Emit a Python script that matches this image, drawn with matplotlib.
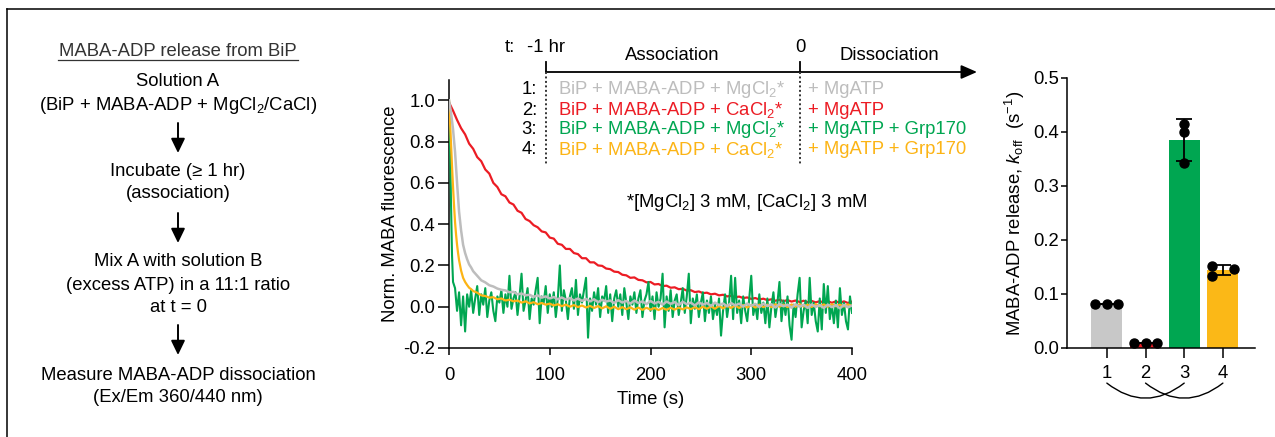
import numpy as np
import matplotlib
matplotlib.use("Agg")
import matplotlib.pyplot as plt
from matplotlib.patches import FancyArrowPatch
from matplotlib.lines import Line2D
import matplotlib.transforms as mtransforms

plt.rcParams['font.family'] = ['Liberation Sans', 'DejaVu Sans']
plt.rcParams['mathtext.fontset'] = 'custom'
plt.rcParams['mathtext.rm'] = 'Liberation Sans'
plt.rcParams['mathtext.it'] = 'Liberation Sans:italic'
plt.rcParams['mathtext.bf'] = 'Liberation Sans:bold'
plt.rcParams['font.size'] = 13.3

# ---------------- data ----------------
C_GRAY, C_RED, C_GREEN, C_YEL = '#bdbdbd', '#ec1c24', '#00a651', '#fcb415'
BAR_COLORS = ['#c8c8c8', '#ec1c24', '#00a651', '#fbb817']

# red trace (CaCl2, MgATP), every 4 s from 0 to 400 s
red_v = [0.99, 0.95, 0.905, 0.865, 0.835, 0.79, 0.765, 0.725, 0.705, 0.665,
         0.645, 0.60, 0.58, 0.545, 0.535, 0.505, 0.495, 0.465, 0.455, 0.425,
         0.415, 0.395, 0.385, 0.365, 0.36, 0.335, 0.33, 0.305, 0.30, 0.28,
         0.28, 0.26, 0.255, 0.235, 0.235, 0.215, 0.215, 0.20, 0.198, 0.185,
         0.182, 0.17, 0.168, 0.155, 0.152, 0.14, 0.142, 0.13, 0.128, 0.118,
         0.12, 0.108, 0.11, 0.10, 0.102, 0.092, 0.094, 0.085, 0.087, 0.078,
         0.08, 0.071, 0.074, 0.066, 0.068, 0.06, 0.063, 0.055, 0.058, 0.05,
         0.053, 0.046, 0.049, 0.042, 0.045, 0.038, 0.042, 0.035, 0.039, 0.032,
         0.036, 0.029, 0.034, 0.027, 0.032, 0.025, 0.030, 0.023, 0.029, 0.022,
         0.028, 0.021, 0.027, 0.020, 0.027, 0.019, 0.026, 0.019, 0.026, 0.018,
         0.025]

# gray trace (MgCl2, MgATP)
gray_t_early = [0, 2, 4, 6, 8, 10, 12, 14, 16, 18, 20, 22]
gray_v_early = [1.00, 0.94, 0.86, 0.75, 0.60, 0.46, 0.37, 0.30, 0.26, 0.23, 0.205, 0.19]
gray_v_late = [0.172, 0.150, 0.128, 0.118, 0.104, 0.098, 0.088, 0.082, 0.079, 0.070,
               0.072, 0.060, 0.064, 0.055, 0.058, 0.048, 0.055, 0.044, 0.050, 0.040,
               0.047, 0.036, 0.045, 0.034, 0.042, 0.030, 0.040, 0.028, 0.038, 0.026,
               0.036, 0.022, 0.034, 0.025, 0.030, 0.018, 0.032, 0.020, 0.028, 0.015,
               0.030, 0.018, 0.026, 0.012, 0.028, 0.016, 0.024, 0.010, 0.025, 0.014,
               0.022, 0.008, 0.024, 0.012, 0.020, 0.006, 0.022, 0.010, 0.018, 0.004,
               0.020, 0.008, 0.016, 0.002, 0.018, 0.006, 0.015, 0.000, 0.016, 0.004,
               0.014, -0.002, 0.015, 0.003, 0.012, -0.004, 0.013, 0.002, 0.010, -0.005,
               0.012, 0.000, 0.010, -0.006, 0.011, -0.001, 0.008, -0.006, 0.010, -0.002,
               0.008, -0.008, 0.009, -0.003, 0.006]

# yellow trace (CaCl2, MgATP + Grp170)
yel_t_early = [0, 1, 2, 3, 4, 5, 6, 7, 8, 9, 10, 12, 14, 16, 18, 20, 22]
yel_v_early = [1.00, 0.90, 0.79, 0.68, 0.58, 0.49, 0.41, 0.35, 0.30, 0.26, 0.225,
               0.175, 0.14, 0.12, 0.105, 0.092, 0.085]
yel_v_late = [0.076, 0.068, 0.055, 0.052, 0.044, 0.046, 0.036, 0.040, 0.030, 0.034,
              0.026, 0.030, 0.020, 0.026, 0.016, 0.022, 0.012, 0.018, 0.010, 0.015,
              0.006, 0.012, 0.003, 0.010, 0.000, 0.008, -0.002, 0.006, -0.004, 0.004,
              -0.006, 0.003, -0.008, 0.002, -0.010, 0.000, -0.012, -0.002, -0.012, -0.003,
              -0.014, -0.004, -0.015, -0.005, -0.014, -0.006, -0.016, -0.006, -0.015, -0.005,
              -0.014, -0.004, -0.013, -0.003, -0.012, -0.002, -0.012, 0.000, -0.010, 0.002,
              -0.010, 0.004, -0.008, 0.006, -0.006, 0.006, -0.006, 0.008, -0.004, 0.008,
              -0.004, 0.010, -0.002, 0.010, -0.002, 0.012, 0.000, 0.010, -0.002, 0.011,
              0.000, 0.012, 0.001, 0.010, -0.001, 0.012, 0.002, 0.011, 0.000, 0.012,
              0.002, 0.010, 0.001, 0.011, 0.004]

# green trace (MgCl2, MgATP + Grp170)
green_t_early = [0, 1, 2, 3, 4]
green_v_early = [1.0, 0.80, 0.50, 0.25, 0.12]
green_v_late = [0.09, -0.02, 0.07, -0.09, 0.05, -0.12, 0.06, 0.00, 0.08, -0.03,
                0.04, 0.10, -0.04, 0.06, 0.01, 0.09, -0.05, 0.03, 0.07, -0.02,
                -0.07, 0.05, 0.02, 0.08, -0.03, 0.06, 0.00, 0.15, -0.01, 0.04,
                0.07, -0.04, 0.05, 0.16, -0.02, 0.03, 0.09, -0.06, 0.04, 0.01,
                0.08, 0.14, -0.08, 0.05, 0.02, 0.10, -0.03, 0.06, 0.00, 0.07,
                -0.05, 0.04, 0.20, -0.02, 0.08, 0.03, -0.06, 0.05, 0.09, -0.01,
                0.13, -0.04, 0.06, 0.02, 0.08, 0.14, -0.15, 0.04, -0.02, 0.07,
                0.01, 0.09, -0.05, 0.05, 0.03, 0.10, -0.03, 0.06, -0.07, 0.04,
                0.08, 0.00, 0.06, -0.04, 0.09, 0.02, -0.06, 0.05, 0.01, 0.07,
                -0.03, 0.04, 0.08, -0.05, 0.03, 0.06, 0.12, -0.02, 0.05, -0.06,
                0.07, 0.00, 0.04, 0.16, -0.10, 0.05, -0.02, 0.08, -0.05, 0.03,
                0.06, -0.04, 0.02, 0.09, -0.03, 0.05, 0.16, -0.08, 0.04, -0.01,
                0.06, -0.05, 0.02, 0.07, -0.07, 0.03, -0.03, 0.05, -0.06, 0.01,
                -0.04, 0.04, -0.14, -0.02, 0.06, -0.05, 0.02, 0.15, -0.06, 0.14,
                -0.03, 0.03, -0.08, 0.05, -0.02, -0.07, 0.04, 0.15, -0.04, 0.01,
                -0.06, 0.06, -0.03, 0.02, -0.08, 0.04, -0.10, 0.00, 0.07, -0.05,
                0.02, 0.12, -0.07, 0.03, -0.04, 0.05, -0.09, -0.16, 0.01, -0.05,
                0.06, 0.14, -0.10, -0.02, 0.03, -0.08, 0.14, -0.04, 0.02, -0.07,
                -0.12, 0.04, -0.11, 0.11, -0.03, 0.10, -0.06, 0.01, -0.08, 0.03,
                -0.10, 0.09, -0.04, 0.02, -0.07, -0.11, 0.05, -0.03]

time_ticks = [0, 100, 200, 300, 400]
fluo_ticks = [-0.2, 0.0, 0.2, 0.4, 0.6, 0.8, 1.0]

# bar chart
bar_labels = ['1', '2', '3', '4']
bar_pos = [1, 2, 3, 4]
koff_points = [[0.082, 0.082, 0.082],
               [0.010, 0.010, 0.010],
               [0.415, 0.400, 0.342],
               [0.152, 0.134, 0.146]]
dot_offsets = [[-0.3, 0.0, 0.3],
               [-0.3, 0.0, 0.3],
               [0.0, 0.0, 0.0],
               [-0.28, -0.28, 0.3]]
koff_ticks = [0.0, 0.1, 0.2, 0.3, 0.4, 0.5]
comparisons = [(1, 3), (2, 4)]

# ---------------- figure ----------------
W, H = 1275, 437
fig = plt.figure(figsize=(W / 100, H / 100), dpi=100)

def fx(px):
    return px / W

def fy(py):
    return 1 - py / H

# frame lines
fig.add_artist(Line2D([fx(7), 1.0], [fy(9), fy(9)], color='black', lw=1.1))
fig.add_artist(Line2D([fx(7), fx(7)], [fy(9), 0.0], color='black', lw=1.1))

# ---------------- left panel: protocol ----------------
CX = 178
fig.text(fx(CX), fy(51), 'MABA-ADP release from BiP', ha='center', va='center', color='#333333')
fig.add_artist(Line2D([fx(58), fx(298)], [fy(60), fy(60)], color='#333333', lw=0.9))
left_lines = [(82, 'Solution A'),
              (105, '(BiP + MABA-ADP + MgCl$_2$/CaCl)'),
              (172, 'Incubate (\u2265 1 hr)'),
              (194, '(association)'),
              (262, 'Mix A with solution B'),
              (285, '(excess ATP) in a 11:1 ratio'),
              (307, 'at t = 0'),
              (375, 'Measure MABA-ADP dissociation'),
              (397, '(Ex/Em 360/440 nm)')]
for yy, s in left_lines:
    fig.text(fx(CX), fy(yy), s, ha='center', va='center')
for y0, y1 in [(123, 153), (213, 243), (325, 355)]:
    fig.add_artist(FancyArrowPatch((fx(CX), fy(y0)), (fx(CX), fy(y1)),
                                   transform=fig.transFigure,
                                   arrowstyle='-|>,head_length=0.62,head_width=0.3',
                                   mutation_scale=14, color='black', lw=1.4,
                                   shrinkA=0, shrinkB=0))

# ---------------- middle: kinetic traces ----------------
ax = fig.add_axes([fx(449), fy(348), fx(852) - fx(449), (348 - 79.7) / H])
t_red = np.linspace(0, 400, len(red_v))
t_gray = np.concatenate([gray_t_early, np.linspace(24, 400, len(gray_v_late))])
v_gray = np.concatenate([gray_v_early, gray_v_late])
t_yel = np.concatenate([yel_t_early, np.linspace(24, 400, len(yel_v_late))])
v_yel = np.concatenate([yel_v_early, yel_v_late])
t_green = np.concatenate([green_t_early, np.linspace(6, 400, len(green_v_late))])
v_green = np.concatenate([green_v_early, green_v_late])

ax.plot(t_red, red_v, color=C_RED, lw=1.6, zorder=2)
ax.plot(t_green, v_green, color=C_GREEN, lw=1.5, zorder=3)
ax.plot(t_yel, v_yel, color=C_YEL, lw=1.6, zorder=4)
ax.plot(t_gray, v_gray, color=C_GRAY, lw=1.8, zorder=5)

ax.set_xlim(0, 400)
ax.set_ylim(-0.2, 1.1)
ax.set_xticks(time_ticks)
ax.set_yticks(fluo_ticks)
ax.set_yticklabels(['%.1f' % v if v >= 0 else '-%.1f' % abs(v) for v in fluo_ticks])
for sp in ['top', 'right']:
    ax.spines[sp].set_visible(False)
for sp in ['left', 'bottom']:
    ax.spines[sp].set_linewidth(1.1)
ax.tick_params(axis='y', direction='out', length=8, width=1.1, pad=2)
ax.tick_params(axis='x', direction='out', length=5, width=1.1, pad=9)
ax.set_xlabel('Time (s)', labelpad=5)
ax.set_ylabel('Norm. MABA fluorescence', labelpad=3)
ax.patch.set_alpha(0)

# timeline annotation
fig.text(fx(510), fy(48), 't:', ha='center', va='center')
fig.text(fx(546), fy(48), '-1 hr', ha='center', va='center')
fig.text(fx(800), fy(48), '0', ha='center', va='center')
fig.text(fx(672), fy(56), 'Association', ha='center', va='center')
fig.text(fx(889), fy(56), 'Dissociation', ha='center', va='center')
fig.add_artist(FancyArrowPatch((fx(546), fy(72)), (fx(977), fy(72)),
                               transform=fig.transFigure,
                               arrowstyle='-|>,head_length=0.8,head_width=0.35',
                               mutation_scale=12, color='black', lw=1.3,
                               shrinkA=0, shrinkB=0))
for xx in [546, 800]:
    fig.add_artist(Line2D([fx(xx), fx(xx)], [fy(62), fy(72)], color='black', lw=1.3))
    fig.add_artist(Line2D([fx(xx), fx(xx)], [fy(72), fy(165)], color='#333333',
                          lw=1.4, linestyle=(0, (1, 1.3))))

row_y = [90, 110, 130, 150]
row_colors = [C_GRAY, C_RED, C_GREEN, C_YEL]
row_assoc = ['BiP + MABA-ADP + MgCl$_2$*', 'BiP + MABA-ADP + CaCl$_2$*',
             'BiP + MABA-ADP + MgCl$_2$*', 'BiP + MABA-ADP + CaCl$_2$*']
row_dissoc = ['+ MgATP', '+ MgATP', '+ MgATP + Grp170', '+ MgATP + Grp170']
for i, yy in enumerate(row_y):
    fig.text(fx(537), fy(yy), '%d:' % (i + 1), ha='right', va='center')
    fig.text(fx(558), fy(yy), row_assoc[i], ha='left', va='center', color=row_colors[i])
    fig.text(fx(808), fy(yy), row_dissoc[i], ha='left', va='center', color=row_colors[i])
fig.text(fx(626), fy(203), '*[MgCl$_2$] 3 mM, [CaCl$_2$] 3 mM', ha='left', va='center')

# ---------------- right: bar chart ----------------
axb = fig.add_axes([fx(1067), fy(348), fx(1255) - fx(1067), (348 - 78) / H])
means = [np.mean(p) for p in koff_points]
sds = [np.std(p, ddof=1) for p in koff_points]
axb.bar(bar_pos, means, width=0.8, color=BAR_COLORS, edgecolor='none', zorder=1)
axb.errorbar(bar_pos, means, yerr=sds, fmt='none', ecolor='black', elinewidth=1.3,
             capsize=6, capthick=1.3, zorder=2)
for p, pts, offs in zip(bar_pos, koff_points, dot_offsets):
    axb.plot([p + o for o in offs], pts, 'o', color='black', markersize=6.5,
             zorder=3, clip_on=False)
axb.set_xlim(-0.03, 4.83)
axb.set_ylim(0, 0.5)
axb.set_xticks(bar_pos)
axb.set_xticklabels(bar_labels)
axb.set_yticks(koff_ticks)
axb.set_yticklabels(['%.1f' % v for v in koff_ticks])
for sp in ['top', 'right']:
    axb.spines[sp].set_visible(False)
for sp in ['left', 'bottom']:
    axb.spines[sp].set_linewidth(1.1)
axb.tick_params(axis='y', direction='out', length=4, width=1.1, pad=2)
axb.tick_params(axis='x', direction='out', length=7, width=1.1, pad=5)
axb.set_ylabel('MABA-ADP release, $k_{\\mathrm{off}}$  (s$^{\\mathrm{-1}}$)', labelpad=4)
axb.patch.set_alpha(0)

blend = mtransforms.blended_transform_factory(axb.transData, axb.transAxes)
for a, b in comparisons:
    arc = FancyArrowPatch((a, -0.13), (b, -0.13), transform=blend,
                          connectionstyle='arc3,rad=0.39', arrowstyle='-',
                          color='black', lw=1.0, shrinkA=0, shrinkB=0, clip_on=False)
    axb.add_patch(arc)

fig.savefig('out.png', dpi=100)
